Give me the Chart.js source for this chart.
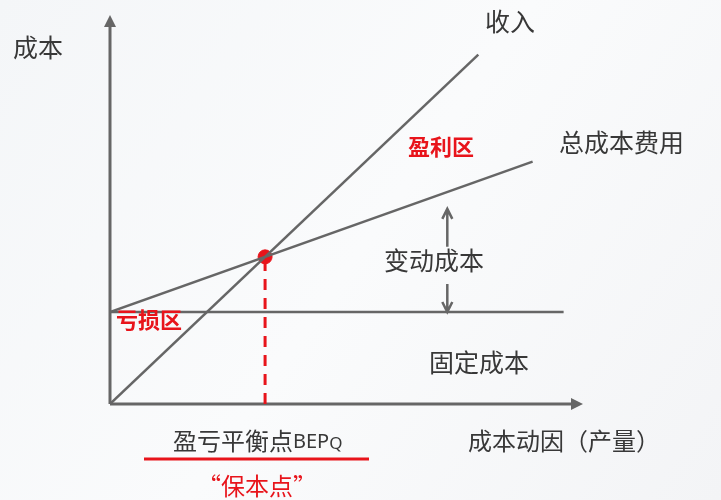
<!DOCTYPE html>
<html>
<head>
<meta charset="utf-8">
<script src="https://cdn.jsdelivr.net/npm/chart.js@4.4.1/dist/chart.umd.min.js"></script>
<style>
  body { margin: 0; background: #f6f7f9; }
  #wrap { width: 721px; height: 500px; }
</style>
</head>
<body>
<div id="wrap"><canvas id="mycanvas"></canvas></div>
<script>
// quantity (x) and cost / revenue (y)
var revenueQty = [0, 9.5];
var revenueVal = [0, 380];
var totalCostQty = [0, 10.9];
var totalCostVal = [100, 263.5];
var fixedCostQty = [0, 11.7];
var fixedCostVal = [100, 100];
var bepQty = [4];
var bepVal = [160];
var axisMaxQty = 12.2;
var axisMaxVal = 423;

function pts(xs, ys) {
  var out = [];
  for (var i in xs) out.push({ x: xs[i], y: ys[i] });
  return out;
}

var CJK = '"Noto Sans CJK SC", "Noto Sans", sans-serif';
var GREY = '#666666';
var RED = '#e8141b';

var bgPlugin = {
  id: 'bg',
  beforeDraw: function(chart) {
    var c = chart.ctx;
    c.save();
    var g = c.createLinearGradient(0, 0, chart.width, chart.height);
    g.addColorStop(0, '#f4f6f8');
    g.addColorStop(0.5, '#fafbfc');
    g.addColorStop(1, '#f3f4f6');
    c.fillStyle = g;
    c.fillRect(0, 0, chart.width, chart.height);
    c.restore();
  }
};

var decorPlugin = {
  id: 'decor',
  beforeDatasetsDraw: function(chart) {
    var c = chart.ctx, xs = chart.scales.x, ys = chart.scales.y;
    var ox = xs.getPixelForValue(0), oy = ys.getPixelForValue(0);
    var xe = xs.getPixelForValue(axisMaxQty), ye = ys.getPixelForValue(axisMaxVal);
    c.save();
    c.strokeStyle = GREY; c.fillStyle = GREY; c.lineWidth = 3;
    // axes
    c.beginPath();
    c.moveTo(ox, oy); c.lineTo(ox, ye + 10);
    c.moveTo(ox, oy); c.lineTo(xe - 10, oy);
    c.stroke();
    c.beginPath();
    c.moveTo(ox, ye); c.lineTo(ox - 6, ye + 12); c.lineTo(ox + 6, ye + 12); c.closePath(); c.fill();
    c.beginPath();
    c.moveTo(xe, oy); c.lineTo(xe - 12, oy - 6); c.lineTo(xe - 12, oy + 6); c.closePath(); c.fill();
    c.restore();
  },
  afterDatasetsDraw: function(chart) {
    var c = chart.ctx, xs = chart.scales.x, ys = chart.scales.y;
    c.save();
    // variable cost double arrow
    var ax = xs.getPixelForValue(8.7);
    var top = ys.getPixelForValue(totalCostVal[0] + 13.9 * 8.7) + 8;
    var bot = ys.getPixelForValue(fixedCostVal[0]);
    c.strokeStyle = GREY; c.lineWidth = 2.5;
    c.beginPath();
    c.moveTo(ax, top); c.lineTo(ax, top + 38);
    c.moveTo(ax - 5, top + 10); c.lineTo(ax, top); c.lineTo(ax + 5, top + 10);
    c.moveTo(ax, bot - 28); c.lineTo(ax, bot);
    c.moveTo(ax - 5, bot - 10); c.lineTo(ax, bot); c.lineTo(ax + 5, bot - 10);
    c.stroke();

    c.textBaseline = 'middle';
    c.fillStyle = '#383838';
    c.font = '25px ' + CJK;
    c.textAlign = 'left';
    c.fillText('成本', 13, 47);
    c.fillText('收入', 485, 21);
    c.fillText('总成本费用', 559, 142);
    c.fillText('变动成本', 384, 260);
    c.fillText('固定成本', 429, 362);
    c.font = '24px ' + CJK;
    c.fillText('成本动因（产量）', 468, 441);
    // break-even label with smaller latin part
    var x0 = 173;
    c.fillText('盈亏平衡点', x0, 441);
    var w = c.measureText('盈亏平衡点').width;
    c.font = '20px "Noto Sans", sans-serif';
    c.fillText('BEP', x0 + w, 442);
    var w2 = c.measureText('BEP').width;
    c.font = '17px "Noto Sans", sans-serif';
    c.fillText('Q', x0 + w + w2, 444);

    c.fillStyle = RED;
    c.font = 'bold 22px ' + CJK;
    c.fillText('盈利区', 408, 147);
    c.fillText('亏损区', 116, 320);
    c.font = '24px ' + CJK;
    c.textAlign = 'center';
    c.fillText('“保本点”', 257, 486);
    c.strokeStyle = RED; c.lineWidth = 3;
    c.beginPath(); c.moveTo(144, 459); c.lineTo(369, 459); c.stroke();
    c.restore();
  }
};

var ctx = document.getElementById('mycanvas');
var chart = new Chart(ctx, {
  type: 'scatter',
  data: {
    datasets: [
      {
        label: '收入',
        data: pts(revenueQty, revenueVal),
        showLine: true, borderColor: GREY, borderWidth: 2.5, pointRadius: 0
      },
      {
        label: '总成本费用',
        data: pts(totalCostQty, totalCostVal),
        showLine: true, borderColor: GREY, borderWidth: 2.5, pointRadius: 0
      },
      {
        label: '固定成本',
        data: pts(fixedCostQty, fixedCostVal),
        showLine: true, borderColor: GREY, borderWidth: 2.5, pointRadius: 0
      },
      {
        label: '保本线',
        data: [{ x: bepQty[0], y: 0 }, { x: bepQty[0], y: bepVal[0] }],
        showLine: true, borderColor: RED, borderWidth: 3, borderDash: [11, 8], pointRadius: 0
      },
      {
        label: '盈亏平衡点',
        data: pts(bepQty, bepVal),
        pointRadius: 7, backgroundColor: RED, borderColor: RED
      }
    ]
  },
  options: {
    responsive: true,
    maintainAspectRatio: false,
    animation: false,
    layout: { padding: { left: 110, right: 138, top: 15, bottom: 96 } },
    scales: {
      x: { type: 'linear', min: 0, max: axisMaxQty, display: false },
      y: { type: 'linear', min: 0, max: axisMaxVal, display: false }
    },
    plugins: {
      legend: { display: false },
      tooltip: { enabled: false }
    }
  },
  plugins: [bgPlugin, decorPlugin]
});
</script>
</body>
</html>
